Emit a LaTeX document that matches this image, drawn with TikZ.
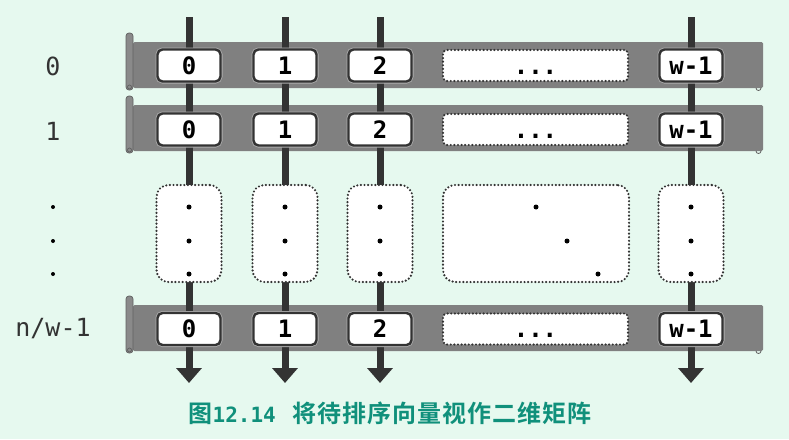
\documentclass[tikz,border=0pt]{standalone}
\usepackage{fontspec}
\setmonofont{DejaVu Sans Mono}
\newfontfamily\cjk[BoldFont={Noto Sans CJK SC Bold}]{Noto Sans CJK SC}
\newfontfamily\cjkwide[BoldFont={Noto Sans CJK SC Bold},LetterSpace=4]{Noto Sans CJK SC}
\usetikzlibrary{calc,arrows.meta,positioning,backgrounds}
\pgfdeclarelayer{barlayer}
\pgfdeclarelayer{edgelayer}
\pgfdeclarelayer{nodelayer}
\pgfsetlayers{main,barlayer,edgelayer,nodelayer}
\definecolor{bg}  {HTML}{E6F9EF}
\definecolor{bar} {HTML}{808080}
\definecolor{ink} {HTML}{333333}
\definecolor{cap} {HTML}{10907B}

\begin{document}
\begin{tikzpicture}[x=1pt,y=-1pt,
    cell/.style={draw=ink, line width=2.4pt, fill=white, rounded corners=5pt,
        minimum width=63pt, minimum height=32pt, inner sep=0pt,
        preaction={draw=ink!40, line width=4pt},
        font=\fontsize{24}{24}\selectfont\ttfamily\bfseries},
    dotbox/.style={draw=ink, line width=2.4pt, line cap=round,
        dash pattern=on 0pt off 3.6pt, fill=white, inner sep=0pt},
    gapcell/.style={dotbox, rounded corners=4pt, minimum width=185pt, minimum height=31pt,
        font=\fontsize{24}{24}\selectfont\ttfamily\bfseries},
    gapcol/.style={dotbox, rounded corners=12pt, minimum width=65pt, minimum height=97pt},
    gapblock/.style={dotbox, rounded corners=12pt, minimum width=186pt, minimum height=97pt},
    colline/.style={draw=ink, line width=7pt, -{Triangle[width=25pt,length=15pt]}},
    rowlabel/.style={text=ink, font=\fontsize{25}{25}\selectfont\ttfamily},
    dot/.style={circle, fill=black, inner sep=0pt, minimum size=5pt},
    ]
    \useasboundingbox (0,0) rectangle (789,439);
    \fill [bg] (0,0) rectangle (789,439);

    \begin{pgfonlayer}{barlayer}
        % the three rows, scroll shaped
        \foreach \y in {42,105,305} {
            \fill [bar, rounded corners=1.5pt] (133,\y) rectangle (763,\y+46);
            \filldraw [fill=bar!92!white, draw=bar!75!black, line width=0.7pt, rounded corners=3pt]
                (126,\y-9) rectangle (133,\y+48);
            \draw [bar!75!black, line width=0.7pt] (129.5,\y+45) circle [radius=2pt];
            \draw [bar!75!black, line width=0.8pt] (756,\y+46) arc [start angle=180, end angle=360, radius=2.5pt];
        }
    \end{pgfonlayer}

    \begin{pgfonlayer}{edgelayer}
        \coordinate (t0) at (189,17);  \coordinate (b0) at (189,383);
        \coordinate (t1) at (285,17);  \coordinate (b1) at (285,383);
        \coordinate (t2) at (380,17);  \coordinate (b2) at (380,383);
        \coordinate (tw) at (691,17);  \coordinate (bw) at (691,383);
        \draw [colline] (t0) -- (b0);
        \draw [colline] (t1) -- (b1);
        \draw [colline] (t2) -- (b2);
        \draw [colline] (tw) -- (bw);
    \end{pgfonlayer}

    \begin{pgfonlayer}{nodelayer}
        % row 0
        \node [cell] (r0c0) at (189, 65.5) {0};
        \node [cell] (r0c1) at (285, 65.5) {1};
        \node [cell] (r0c2) at (380, 65.5) {2};
        \node [gapcell] (r0cd) at (535.5, 65.5) {\vphantom{0}...};
        \node [cell] (r0cw) at (691, 65.5) {w-1};
        % row 1
        \node [cell] (r1c0) at (189, 129.5) {0};
        \node [cell] (r1c1) at (285, 129.5) {1};
        \node [cell] (r1c2) at (380, 129.5) {2};
        \node [gapcell] (r1cd) at (535.5, 129.5) {\vphantom{0}...};
        \node [cell] (r1cw) at (691, 129.5) {w-1};
        % skipped rows
        \node [gapcol] (g0) at (189, 233.5) {};
        \node [gapcol] (g1) at (285, 233.5) {};
        \node [gapcol] (g2) at (380, 233.5) {};
        \node [gapblock] (gd) at (536, 233.5) {};
        \node [gapcol] (gw) at (691, 233.5) {};
        % last row
        \node [cell] (rnc0) at (189, 329) {0};
        \node [cell] (rnc1) at (285, 329) {1};
        \node [cell] (rnc2) at (380, 329) {2};
        \node [gapcell] (rncd) at (535.5, 329) {\vphantom{0}...};
        \node [cell] (rncw) at (691, 329) {w-1};

        \foreach \x in {189,285,380,691} {
            \node [dot] at (\x,207) {};
            \node [dot] at (\x,241) {};
            \node [dot] at (\x,274) {};
        }
        \node [dot] (gd1) at (536,207) {};
        \node [dot] (gd2) at (567,241) {};
        \node [dot] (gd3) at (598,274) {};
    \end{pgfonlayer}

    \node [rowlabel] (l0) at (53,66) {0};
    \node [rowlabel] (l1) at (53,131) {1};
    \node [dot, minimum size=4pt] (ld1) at (53,207) {};
    \node [dot, minimum size=4pt] (ld2) at (53,241) {};
    \node [dot, minimum size=4pt] (ld3) at (53,274) {};
    \node [rowlabel] (ln) at (53,329) {n/w-1};

    \node [text=cap, font=\fontsize{24}{24}\selectfont\cjk\bfseries] (caption) at (390,413)
        {图{\fontsize{21}{21}\selectfont\ttfamily\bfseries 12.14}\hspace{17pt}{\cjkwide\bfseries 将待排序向量视作二维矩阵}};
\end{tikzpicture}
\end{document}
